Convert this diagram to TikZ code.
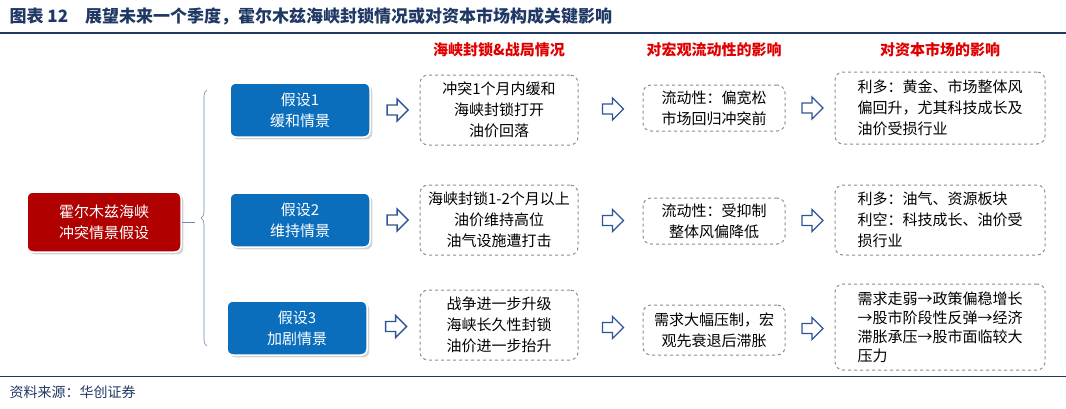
\documentclass[tikz,border=0pt]{standalone}
\usepackage{fontspec}
\setmainfont{Liberation Serif}
\newfontfamily\cjk{Noto Sans CJK SC}
\usetikzlibrary{positioning,shapes.arrows,decorations.pathreplacing,shadows}
\definecolor{titleblue}{HTML}{1F3864}
\definecolor{boxblue}{HTML}{0A6EBD}
\definecolor{boxred}{HTML}{B00000}
\definecolor{headred}{HTML}{E00000}
\definecolor{arrowblue}{HTML}{2F5597}
\tikzstyle{scen}=[rectangle,rounded corners=6pt,draw=white,line width=1.5pt,fill=boxblue,
text=white,align=center,minimum width=140pt,minimum height=54pt,font=\cjk\fontsize{15}{21}\selectfont,
drop shadow={opacity=0.35}]
\tikzstyle{root}=[scen,fill=boxred,minimum width=154pt,minimum height=60pt]
\tikzstyle{info}=[rectangle,rounded corners=8pt,draw=black!45,dashed,line width=1pt,
align=center,font=\cjk\fontsize{15}{21}\selectfont,inner sep=4pt]
\tikzstyle{head}=[font=\cjk\bfseries\fontsize{15}{17}\selectfont,text=headred]
\tikzstyle{harrow}=[single arrow,draw=arrowblue,line width=1.3pt,fill=white,
minimum height=21pt,minimum width=22pt,single arrow head extend=5pt,inner sep=3.5pt]
\begin{document}
\begin{tikzpicture}[x=1pt,y=-1pt]
            \useasboundingbox (0,0) rectangle (1066,408);

            % title and frame
            \node[anchor=west,font=\cjk\bfseries\fontsize{17}{19}\selectfont,text=titleblue] (title) at (6,16)
                {图表 12\quad 展望未来一个季度，霍尔木兹海峡封锁情况或对资本市场构成关键影响};
            \draw[titleblue,line width=1.2pt] (0,33) -- (1066,33);
            \draw[titleblue,line width=1pt] (0,376) -- (1066,376);
            \node[anchor=west,font=\cjk\fontsize{14}{16}\selectfont,text=titleblue] (src) at (6,392) {资料来源：华创证券};

            % column heads
            \node[head] (h1) at (499,50) {海峡封锁\&战局情况};
            \node[head] (h2) at (714,50) {对宏观流动性的影响};
            \node[head] (h3) at (940,50) {对资本市场的影响};

            % scenarios
            \node[root] (r) at (104,222) {霍尔木兹海峡\\冲突情景假设};
            \node[scen] (s1) at (300,110) {假设1\\缓和情景};
            \node[scen] (s2) at (300,220) {假设2\\维持情景};
            \node[scen] (s3) at (297,328) {假设3\\加剧情景};

            \draw[decorate,decoration={brace,amplitude=6pt,mirror},draw=arrowblue!70,line width=0.6pt]
                (207,90) -- (207,346);
            \draw[draw=arrowblue!70,line width=0.6pt] (r.east) -- (195,222);

            % column 1
            \node[info,minimum width=158pt,minimum height=70pt] (a1) at (499,110) {冲突1个月内缓和\\海峡封锁打开\\油价回落};
            \node[info,minimum width=158pt,minimum height=70pt] (a2) at (499,220) {海峡封锁1-2个月以上\\油价维持高位\\油气设施遭打击};
            \node[info,minimum width=158pt,minimum height=70pt] (a3) at (499,325) {战争进一步升级\\海峡长久性封锁\\油价进一步抬升};

            % column 2
            \node[info,minimum width=142pt,minimum height=46pt] (b1) at (714,108) {流动性：偏宽松\\市场回归冲突前};
            \node[info,minimum width=142pt,minimum height=46pt] (b2) at (714,221) {流动性：受抑制\\整体风偏降低};
            \node[info,minimum width=142pt,minimum height=50pt] (b3) at (714,330) {需求大幅压制，宏\\观先衰退后滞胀};

            % column 3
            \node[info,minimum width=210pt,minimum height=72pt,align=left] (c1) at (940,108) {利多：黄金、市场整体风\\偏回升，尤其科技成长及\\油价受损行业};
            \node[info,minimum width=210pt,minimum height=70pt,align=left] (c2) at (940,220) {利多：油气、资源板块\\利空：科技成长、油价受\\损行业};
            \node[info,minimum width=210pt,minimum height=86pt,align=left,font=\cjk\fontsize{15}{19}\selectfont] (c3) at (940,327) {需求走弱→政策偏稳增长\\→股市阶段性反弹→经济\\滞胀承压→股市面临较大\\压力};

            % hollow arrows
            \foreach \i in {1,2,3}{
                \path (s\i.east) -- (a\i.west) node[harrow,midway] (p\i) {};
                \path (a\i.east) -- (b\i.west) node[harrow,midway] (q\i) {};
                \path (b\i.east) -- (c\i.west) node[harrow,midway] (u\i) {};
            }
\end{tikzpicture}
\end{document}
